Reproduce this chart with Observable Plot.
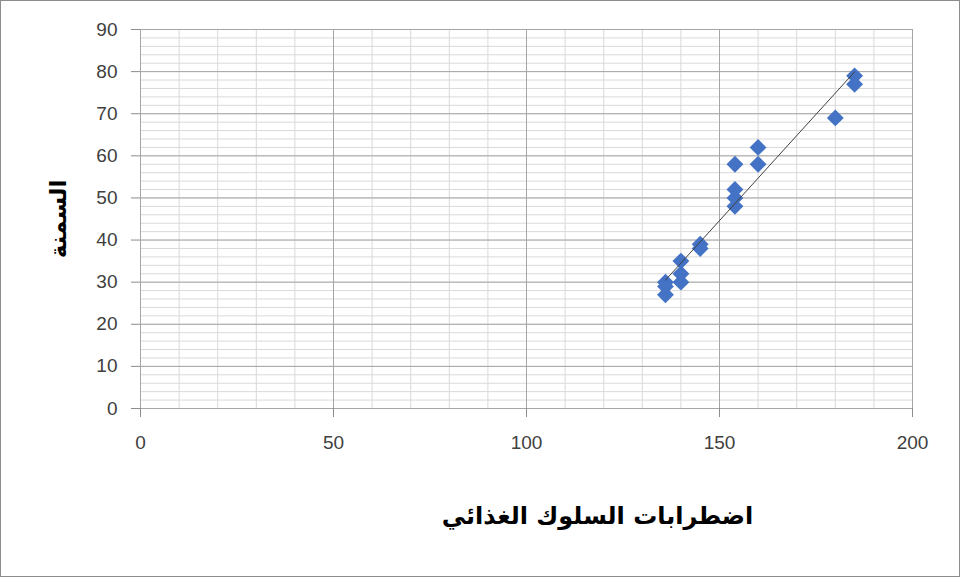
<!DOCTYPE html>
<html>
<head>
<meta charset="utf-8">
<script src="https://cdn.jsdelivr.net/npm/d3@7"></script>
<script src="https://cdn.jsdelivr.net/npm/@observablehq/plot@0.6"></script>
<style>
  html, body { margin: 0; padding: 0; background: #fff; }
  #chart { width: 960px; height: 577px; box-sizing: border-box; border: 1px solid #8c8c8c; overflow: hidden; }
  svg { display: block; }
</style>
</head>
<body>
<div id="chart"></div>
<script>
const xLabel = "اضطرابات السلوك الغذائي";
const yLabel = "السمنة";
const eatingDisorders = [185, 185, 180, 160, 160, 154, 154, 154, 154, 145, 145, 140, 140, 140, 136, 136, 136];
const obesity =         [79,  77,  69,  62,  58,  58,  52,  50,  48,  39,  38,  35,  32,  30,  30,  29,  27];
const xTicks = [0, 50, 100, 150, 200];
const yTicks = [0, 10, 20, 30, 40, 50, 60, 70, 80, 90];

const data = eatingDisorders.map((x, i) => ({x, y: obesity[i]}));

const chart = Plot.plot({
  width: 958,
  height: 575,
  marginLeft: 139,
  marginRight: 47,
  marginTop: 28,
  marginBottom: 168,
  style: {fontFamily: "'Liberation Sans', 'DejaVu Sans', sans-serif", fontSize: "19px", color: "#404040", background: "#fff"},
  x: {domain: [0, 200], label: null},
  y: {domain: [0, 90], label: null},
  marks: [
    Plot.ruleY(d3.range(0, 91, 2), {stroke: "#d9d9d9", strokeWidth: 1}),
    Plot.ruleX(d3.range(0, 201, 10), {stroke: "#d9d9d9", strokeWidth: 1}),
    Plot.ruleY(yTicks, {stroke: "#a6a6a6", strokeWidth: 1}),
    Plot.ruleX(xTicks, {stroke: "#a6a6a6", strokeWidth: 1}),
    Plot.axisY({ticks: yTicks, tickSize: 9, tickPadding: 14, stroke: "#8c8c8c", fill: "#404040", label: null}),
    Plot.axisX({ticks: xTicks, tickSize: 9, tickPadding: 18, stroke: "#8c8c8c", fill: "#404040", label: null}),
    Plot.dot(data, {x: "x", y: "y", symbol: "diamond2", r: 7.6, fill: "#4472C4", stroke: "none"}),
    Plot.linearRegressionY(data, {x: "x", y: "y", stroke: "#404040", strokeWidth: 1, ci: 0}),
    Plot.text([xLabel], {frameAnchor: "bottom", dx: 71, dy: 115, text: d => d, fontSize: 24, fontWeight: "bold", fill: "#000", fontFamily: "'DejaVu Sans', sans-serif"}),
    Plot.text([yLabel], {frameAnchor: "left", textAnchor: "middle", dx: -82, rotate: -90, text: d => d, fontSize: 23, fontWeight: "bold", fill: "#000", fontFamily: "'DejaVu Sans', sans-serif"})
  ]
});
document.getElementById("chart").appendChild(chart);
</script>
</body>
</html>
